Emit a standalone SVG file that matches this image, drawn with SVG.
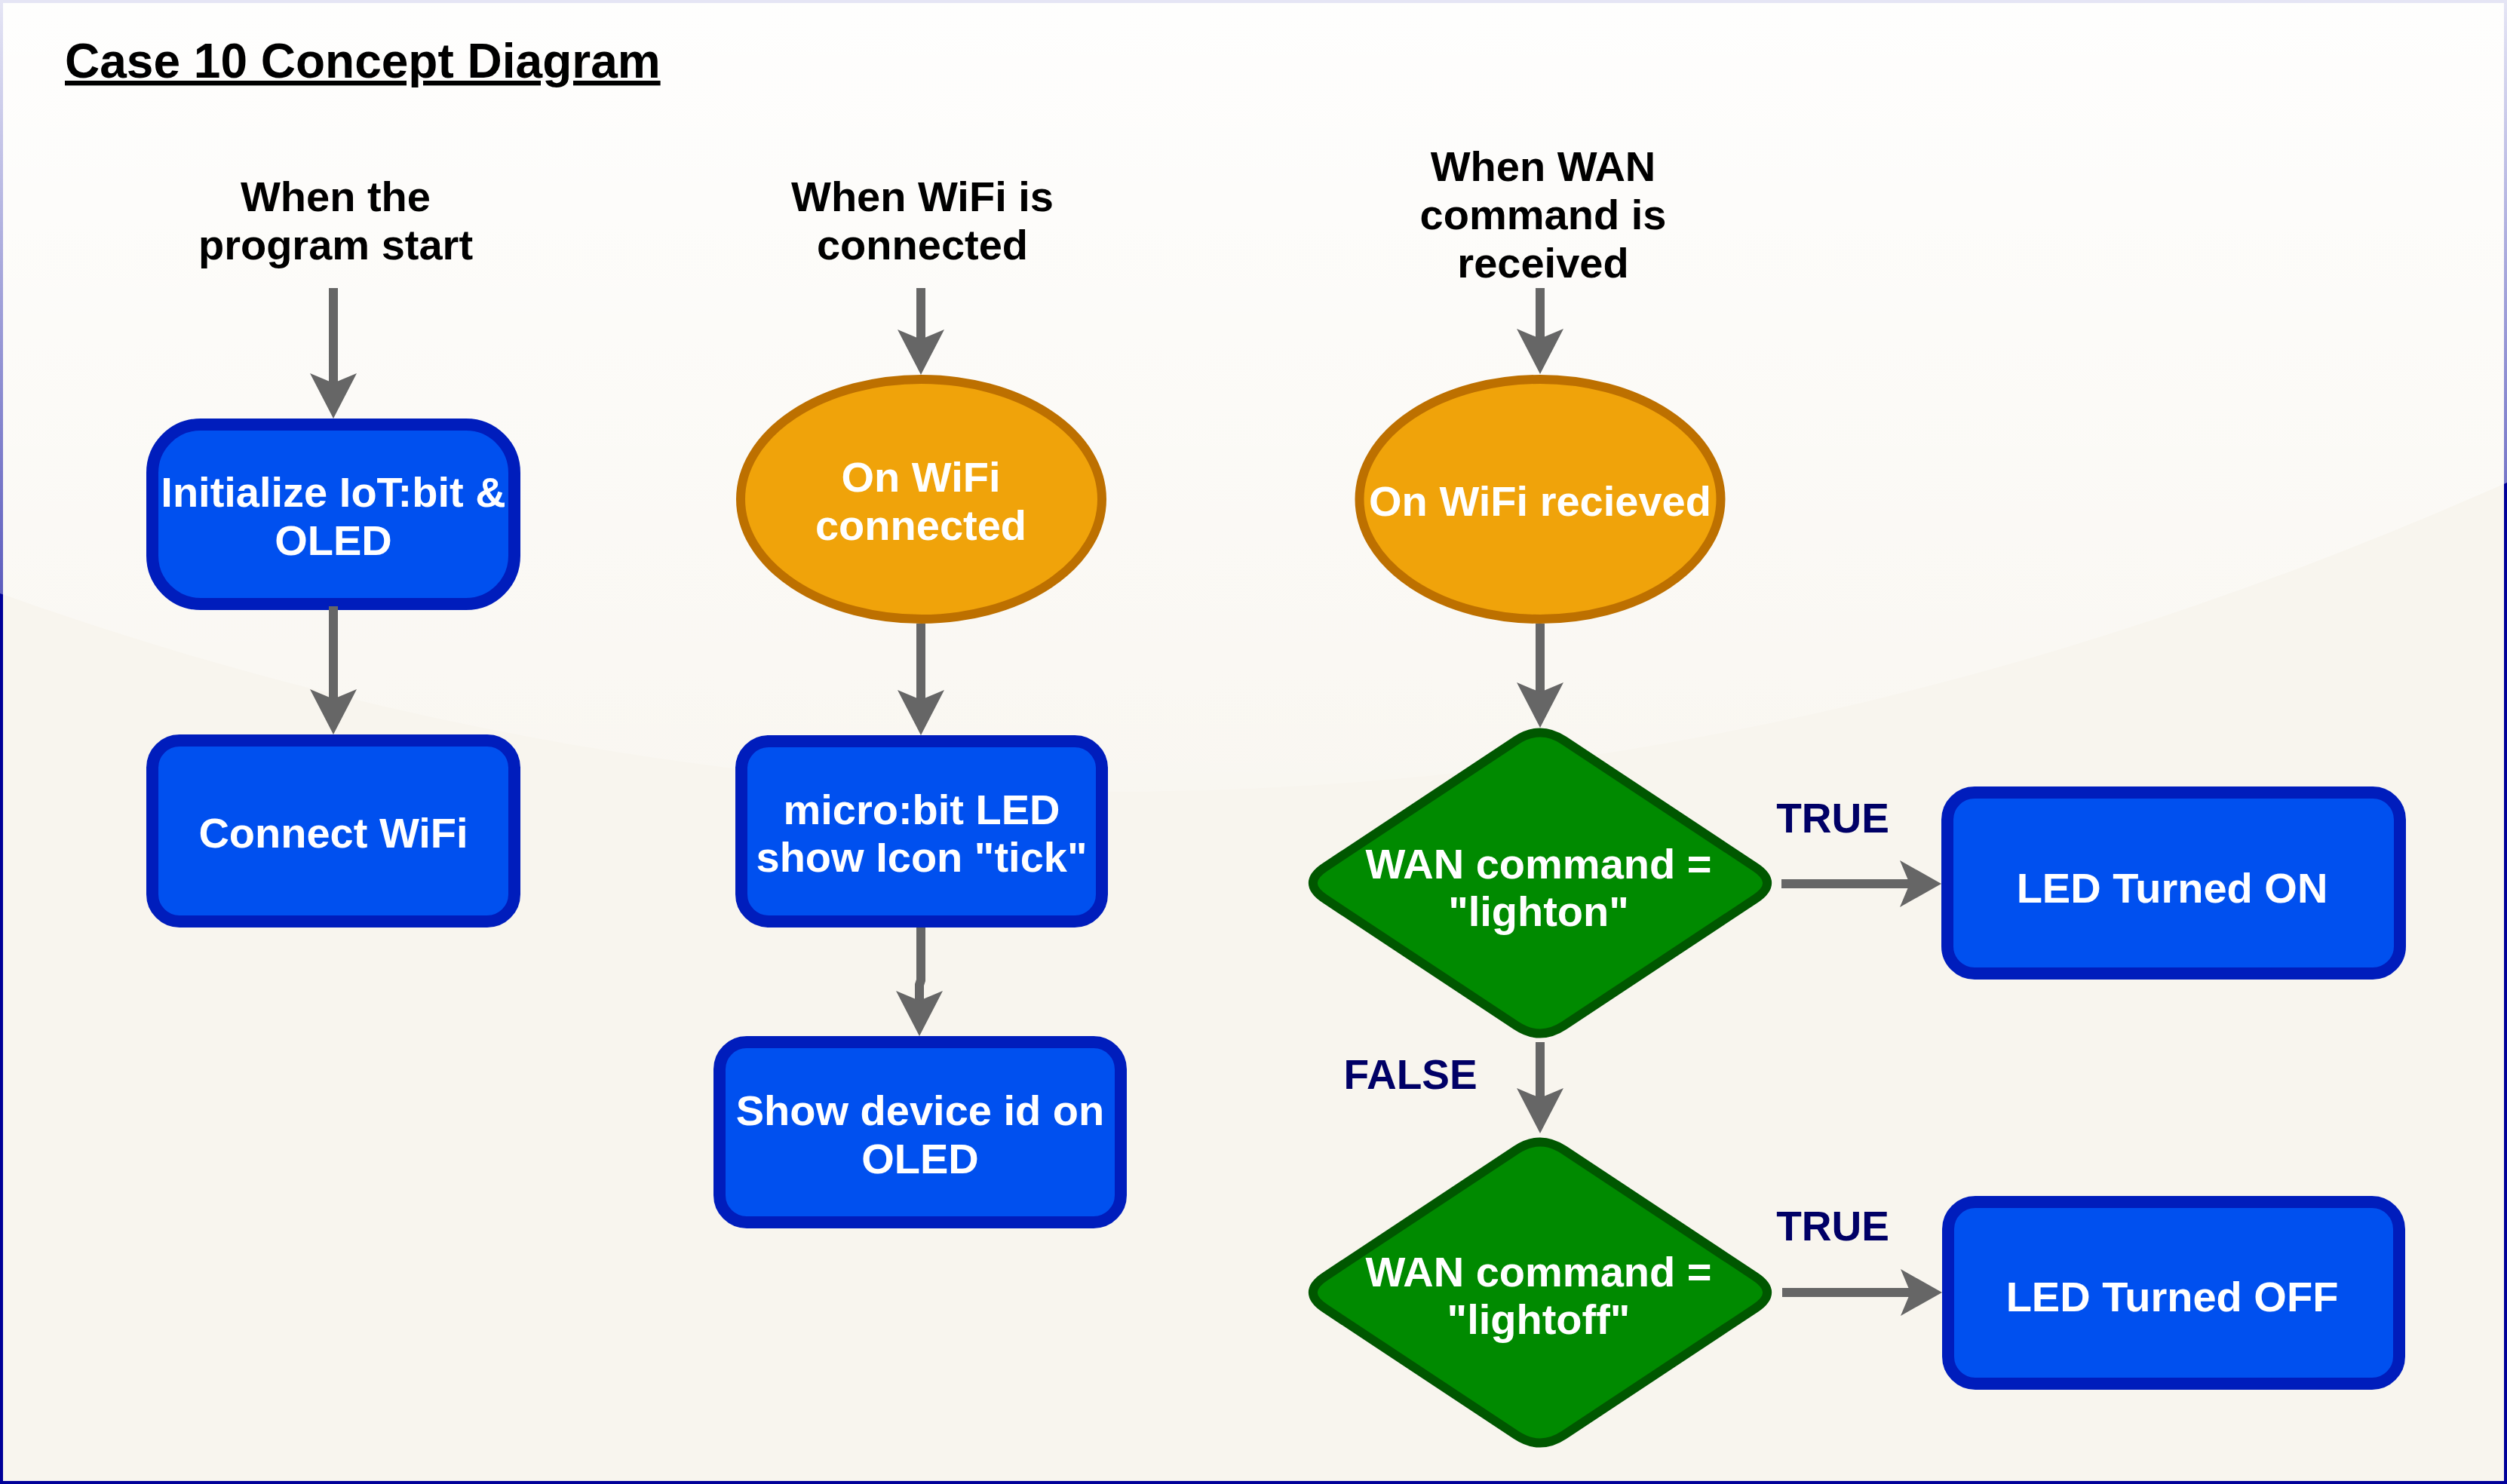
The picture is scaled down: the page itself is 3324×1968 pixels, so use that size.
<svg xmlns="http://www.w3.org/2000/svg" width="3324" height="1968" viewBox="0 0 3324 1968">
<style>
.box{fill:#0050ef;stroke:#001dbc;stroke-width:16}
.ell{fill:#f0a30a;stroke:#bd7000;stroke-width:12}
.dia{fill:#008a00;stroke:#005700;stroke-width:12}
.t{font-family:"Liberation Sans",Arial,sans-serif;font-weight:bold;font-size:56px;text-anchor:middle}
.w{fill:#ffffff}
.k{fill:#000000}
.tf{fill:#000066;font-size:55px}
.edge{fill:none;stroke:#666666;stroke-width:12}
.ev{marker-end:url(#arrV)}
.eh{marker-end:url(#arrH)}
</style>
<defs>
<linearGradient id="glass" gradientUnits="userSpaceOnUse" x1="0" y1="0" x2="0" y2="1181">
<stop offset="0" stop-color="#ffffff" stop-opacity="0.9"/>
<stop offset="1" stop-color="#ffffff" stop-opacity="0.1"/>
</linearGradient>
<marker id="arrV" markerUnits="userSpaceOnUse" viewBox="-30 -40 80 80" markerWidth="80" markerHeight="80" refX="0" refY="0" orient="auto" overflow="visible">
<path d="M-20,-31 L40,0 L-20,31 L-7,0 Z" fill="#666666"/>
</marker>
<marker id="arrH" markerUnits="userSpaceOnUse" viewBox="-30 -40 80 80" markerWidth="80" markerHeight="80" refX="0" refY="0" orient="auto" overflow="visible">
<path d="M-18,-31 L37,0 L-18,31 L-5,0 Z" fill="#666666"/>
</marker>
</defs>

<g id="background">
<rect x="2" y="2" width="3320" height="1964" fill="#f8f5ee" stroke="#000099" stroke-width="4"/>
<path d="M0,0 L0,787 Q1662,1378 3324,640 L3324,0 Z" fill="url(#glass)"/>
</g>

<g id="title">
<text x="86" y="103" class="t k" style="font-size:64px;text-anchor:start;text-decoration:underline">Case 10 Concept Diagram</text>
</g>

<g id="hdr-start"><text class="t k" x="445" y="280">When the</text><text class="t k" x="445" y="344">program start</text></g>
<g id="hdr-wifi"><text class="t k" x="1223" y="280">When WiFi is</text><text class="t k" x="1223" y="344">connected</text></g>
<g id="hdr-wan"><text class="t k" x="2046" y="240">When WAN</text><text class="t k" x="2046" y="304">command is</text><text class="t k" x="2046" y="368">received</text></g>

<g id="init">
<rect class="box" x="202" y="563" width="480" height="238" rx="64" ry="64"/>
<text class="t w" x="442" y="672">Initialize IoT:bit &amp;</text>
<text class="t w" x="442" y="736">OLED</text>
</g>
<g id="connect">
<rect class="box" x="202" y="982" width="480" height="240" rx="36" ry="36"/>
<text class="t w" x="442" y="1124">Connect WiFi</text>
</g>
<g id="onwifi">
<ellipse class="ell" cx="1221.5" cy="662" rx="239.5" ry="159"/>
<text class="t w" x="1221" y="652">On WiFi</text>
<text class="t w" x="1221" y="716">connected</text>
</g>
<g id="microbit">
<rect class="box" x="983" y="983" width="478" height="239" rx="36" ry="36"/>
<text class="t w" x="1222" y="1093">micro:bit LED</text>
<text class="t w" x="1222" y="1156">show Icon "tick"</text>
</g>
<g id="showid">
<rect class="box" x="954" y="1382" width="532" height="239" rx="36" ry="36"/>
<text class="t w" x="1220" y="1492">Show device id on</text>
<text class="t w" x="1220" y="1556">OLED</text>
</g>
<g id="onrecv">
<ellipse class="ell" cx="2042" cy="662" rx="239.5" ry="159"/>
<text class="t w" x="2042" y="684">On WiFi recieved</text>
</g>
<g id="dec-on">
<path class="dia" d="M2010.3,982 Q2042,961 2073.7,982 L2327.3,1150 Q2359,1171 2327.3,1192 L2073.7,1360 Q2042,1381 2010.3,1360 L1756.7,1192 Q1725,1171 1756.7,1150 Z"/>
<text class="t w" x="2040" y="1165">WAN command =</text>
<text class="t w" x="2040" y="1228">"lighton"</text>
</g>
<g id="dec-off">
<path class="dia" d="M2010.3,1525 Q2042,1504 2073.7,1525 L2327.3,1693 Q2359,1714 2327.3,1735 L2073.7,1903 Q2042,1924 2010.3,1903 L1756.7,1735 Q1725,1714 1756.7,1693 Z"/>
<text class="t w" x="2040" y="1706">WAN command =</text>
<text class="t w" x="2040" y="1769">"lightoff"</text>
</g>
<g id="ledon">
<rect class="box" x="2582" y="1051" width="600" height="240" rx="36" ry="36"/>
<text class="t w" x="2880" y="1197">LED Turned ON</text>
</g>
<g id="ledoff">
<rect class="box" x="2583" y="1594" width="598" height="241" rx="36" ry="36"/>
<text class="t w" x="2880" y="1739">LED Turned OFF</text>
</g>

<g id="connectors">
<path class="edge ev" d="M442,382 V515"/>
<path class="edge ev" d="M442,804 V934"/>
<path class="edge ev" d="M1221,382 V457"/>
<path class="edge ev" d="M1221,827 V935"/>
<path class="edge ev" d="M1221,1230 V1300 L1219,1306 V1334"/>
<path class="edge ev" d="M2042,382 V456"/>
<path class="edge ev" d="M2042,827 V925"/>
<path class="edge ev" d="M2042,1382 V1463"/>
<path class="edge eh" d="M2362,1172 H2537"/>
<path class="edge eh" d="M2363,1714 H2538"/>
<text class="t tf" x="2430" y="1104">TRUE</text>
<text class="t tf" x="1870" y="1444">FALSE</text>
<text class="t tf" x="2430" y="1645">TRUE</text>
</g>
</svg>
